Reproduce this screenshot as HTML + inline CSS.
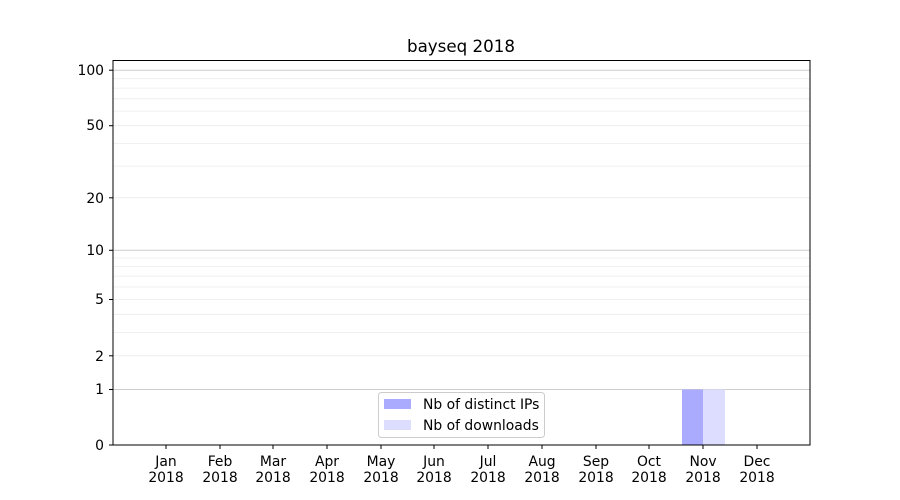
<!DOCTYPE html>
<html><head><meta charset="utf-8"><style>body{margin:0;background:#fff}svg{display:block}text{font-family:"DejaVu Sans","Liberation Sans",sans-serif;font-size:13.9px;fill:#000}</style></head>
<body>
<svg width="900" height="500" xmlns="http://www.w3.org/2000/svg">
<rect width="900" height="500" fill="#fff"/>
<g stroke="#ebebeb" stroke-width="0.8">
<line x1="113" x2="810" y1="355.8" y2="355.8"/><line x1="113" x2="810" y1="332.4" y2="332.4"/>
<line x1="113" x2="810" y1="314.3" y2="314.3"/><line x1="113" x2="810" y1="299.5" y2="299.5"/>
<line x1="113" x2="810" y1="287" y2="287"/><line x1="113" x2="810" y1="276.1" y2="276.1"/>
<line x1="113" x2="810" y1="266.6" y2="266.6"/><line x1="113" x2="810" y1="258" y2="258"/>
<line x1="113" x2="810" y1="197.8" y2="197.8"/><line x1="113" x2="810" y1="166.1" y2="166.1"/>
<line x1="113" x2="810" y1="143.4" y2="143.4"/><line x1="113" x2="810" y1="125.7" y2="125.7"/>
<line x1="113" x2="810" y1="111.1" y2="111.1"/><line x1="113" x2="810" y1="98.8" y2="98.8"/>
<line x1="113" x2="810" y1="88.1" y2="88.1"/><line x1="113" x2="810" y1="78.7" y2="78.7"/>
</g>
<g stroke="#cccccc" stroke-width="1">
<line x1="113" x2="810" y1="389.5" y2="389.5"/><line x1="113" x2="810" y1="250.3" y2="250.3"/><line x1="113" x2="810" y1="70.2" y2="70.2"/>
</g>
<rect x="682" y="389.5" width="21" height="55.5" fill="#aaaaff"/>
<rect x="703" y="389.5" width="22" height="55.5" fill="#ddddff"/>
<rect x="113" y="60.5" width="697" height="384.5" fill="none" stroke="#000" stroke-width="1"/>
<g stroke="#000">
<line x1="109" x2="113" y1="445" y2="445"/><line x1="109" x2="113" y1="389.5" y2="389.5"/>
<line x1="109" x2="113" y1="355.8" y2="355.8"/><line x1="109" x2="113" y1="299.5" y2="299.5"/>
<line x1="109" x2="113" y1="250.3" y2="250.3"/><line x1="109" x2="113" y1="197.8" y2="197.8"/>
<line x1="109" x2="113" y1="125.7" y2="125.7"/><line x1="109" x2="113" y1="70.2" y2="70.2"/>
</g>
<g text-anchor="end">
<text x="104" y="450">0</text><text x="104" y="394">1</text><text x="104" y="361">2</text>
<text x="104" y="304">5</text><text x="104" y="255">10</text><text x="104" y="203">20</text>
<text x="104" y="130">50</text><text x="104" y="75">100</text>
</g>
<g text-anchor="middle">
<text x="166" y="466">Jan</text><text x="166" y="482">2018</text>
<text x="220" y="466">Feb</text><text x="220" y="482">2018</text>
<text x="273" y="466">Mar</text><text x="273" y="482">2018</text>
<text x="327" y="466">Apr</text><text x="327" y="482">2018</text>
<text x="381" y="466">May</text><text x="381" y="482">2018</text>
<text x="434" y="466">Jun</text><text x="434" y="482">2018</text>
<text x="488" y="466">Jul</text><text x="488" y="482">2018</text>
<text x="542" y="466">Aug</text><text x="542" y="482">2018</text>
<text x="596" y="466">Sep</text><text x="596" y="482">2018</text>
<text x="649" y="466">Oct</text><text x="649" y="482">2018</text>
<text x="703" y="466">Nov</text><text x="703" y="482">2018</text>
<text x="757" y="466">Dec</text><text x="757" y="482">2018</text>
<text x="461" y="52" style="font-size:16.7px">bayseq 2018</text>
</g>
<g stroke="#000">
<line x1="166" x2="166" y1="445" y2="449"/><line x1="220" x2="220" y1="445" y2="449"/><line x1="273" x2="273" y1="445" y2="449"/>
<line x1="327" x2="327" y1="445" y2="449"/><line x1="381" x2="381" y1="445" y2="449"/><line x1="434" x2="434" y1="445" y2="449"/>
<line x1="488" x2="488" y1="445" y2="449"/><line x1="542" x2="542" y1="445" y2="449"/><line x1="596" x2="596" y1="445" y2="449"/>
<line x1="649" x2="649" y1="445" y2="449"/><line x1="703" x2="703" y1="445" y2="449"/><line x1="757" x2="757" y1="445" y2="449"/>
</g>
<rect x="378.5" y="392.5" width="166" height="45" rx="3" fill="#fff" fill-opacity="0.8" stroke="#ccc"/>
<rect x="384" y="399" width="27" height="10" fill="#aaaaff"/>
<rect x="384" y="420" width="27" height="10" fill="#ddddff"/>
<text x="423" y="409">Nb of distinct IPs</text>
<text x="423" y="430">Nb of downloads</text>
</svg>
</body></html>
